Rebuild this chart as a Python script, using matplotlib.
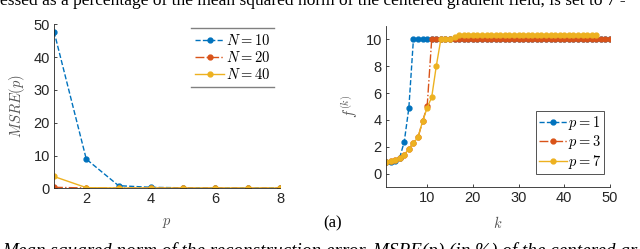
import matplotlib
matplotlib.use("Agg")
import matplotlib.pyplot as plt
from matplotlib.lines import Line2D

plt.rcParams['font.family'] = ['Liberation Sans', 'DejaVu Sans']
plt.rcParams['mathtext.fontset'] = 'cm'

# ---- data: left panel ----
p_vals = [1, 2, 3, 4, 5, 6, 7, 8]
msre_N10 = [47.8, 8.9, 0.8, 0.3, 0.15, 0.1, 0.1, 0.1]
msre_N20 = [0.3, 0.1, 0.05, 0.05, 0.05, 0.05, 0.05, 0.05]
msre_N40 = [3.6, 0.2, 0.1, 0.1, 0.1, 0.1, 0.1, 0.1]
left_labels = ['$N = 10$', '$N = 20$', '$N = 40$']

# ---- data: right panel ----
k_p1 = list(range(1, 51))
f_p1 = [0.85, 0.9, 0.95, 1.2, 2.4, 4.9, 10.0, 10.0, 10.0, 10.0,
        10.0, 10.0, 10.0, 10.0, 10.0, 10.0, 10.0, 10.0, 10.0, 10.0,
        10.0, 10.0, 10.0, 10.0, 10.0, 10.0, 10.0, 10.0, 10.0, 10.0,
        10.0, 10.0, 10.0, 10.0, 10.0, 10.0, 10.0, 10.0, 10.0, 10.0,
        10.0, 10.0, 10.0, 10.0, 10.0, 10.0, 10.0, 10.0, 10.0, 10.0]
k_p3 = list(range(1, 51))
f_p3 = [0.9, 0.95, 1.0, 1.2, 1.4, 1.85, 2.3, 2.7, 3.9, 5.0,
        10.0, 10.0, 10.0, 10.0, 10.0, 10.0, 10.0, 10.0, 10.0, 10.0,
        10.0, 10.0, 10.0, 10.0, 10.0, 10.0, 10.0, 10.0, 10.0, 10.0,
        10.0, 10.0, 10.0, 10.0, 10.0, 10.0, 10.0, 10.0, 10.0, 10.0,
        10.0, 10.0, 10.0, 10.0, 10.0, 10.0, 10.0, 10.0, 10.0, 10.0]
k_p7 = list(range(1, 48))
f_p7 = [0.9, 0.95, 1.0, 1.2, 1.4, 1.85, 2.3, 2.7, 3.9, 4.9,
        5.7, 8.0, 10.0, 10.0, 10.0, 10.15, 10.3, 10.3, 10.3, 10.3,
        10.3, 10.3, 10.3, 10.3, 10.3, 10.3, 10.3, 10.3, 10.3, 10.3,
        10.3, 10.3, 10.3, 10.3, 10.3, 10.3, 10.3, 10.3, 10.3, 10.3,
        10.3, 10.3, 10.3, 10.3, 10.3, 10.3, 10.3]
right_labels = ['$p = 1$', '$p = 3$', '$p = 7$']

caption_top = "essed as a percentage of the mean squared norm of the centered gradient field, is set to 7 -"
caption_bottom = "Mean squared norm of the reconstruction error, MSRE(p) (in %) of the centered gr"

C1, C2, C3 = '#0072BD', '#D95319', '#EDB120'
AX = '#262626'

W, H = 640, 249
fig = plt.figure(figsize=(W / 100, H / 100), dpi=100)

def style(ax):
    for s in ['top', 'right']:
        ax.spines[s].set_visible(False)
    for s in ['left', 'bottom']:
        ax.spines[s].set_color(AX)
        ax.spines[s].set_linewidth(0.6)
    ax.tick_params(direction='in', length=2.5, width=0.6, colors=AX,
                   labelsize=10.5, pad=3)

# left panel
ax1 = fig.add_axes([54 / W, 1 - 188.3 / H, (280 - 54) / W, (188.3 - 24.3) / H])
ax1.plot(p_vals, msre_N10, '--', color=C1, marker='.', ms=7, lw=1.0, label=left_labels[0])
ax1.plot(p_vals, msre_N20, '-.', color=C2, marker='.', ms=7, lw=1.0, label=left_labels[1])
ax1.plot(p_vals, msre_N40, '-', color=C3, marker='.', ms=7, lw=1.0, label=left_labels[2])
ax1.set_xlim(1, 8)
ax1.set_ylim(0, 50)
ax1.set_xticks([2, 4, 6, 8])
ax1.set_yticks([0, 10, 20, 30, 40, 50])
style(ax1)
ax1.set_xlabel('$p$', fontsize=10.5, color='#555555', labelpad=7)
ax1.set_ylabel('$MSRE(p)$', fontsize=10.5, color='#555555', labelpad=5)
leg1 = ax1.legend(loc='upper right', bbox_to_anchor=(0.975, 0.975), frameon=False,
                  fontsize=10.5, handlelength=2.0, handletextpad=0.1,
                  borderaxespad=0, labelspacing=0.15, borderpad=0.3)

# right panel
ax2 = fig.add_axes([386 / W, 1 - 187.3 / H, (610 - 386) / W, (187.3 - 25.7) / H])
ax2.plot(k_p1, f_p1, '--', color=C1, marker='.', ms=7, lw=1.0, label=right_labels[0])
ax2.plot(k_p3, f_p3, '-.', color=C2, marker='.', ms=7, lw=1.0, label=right_labels[1])
ax2.plot(k_p7, f_p7, '-', color=C3, marker='.', ms=7, lw=1.0, label=right_labels[2])
ax2.set_xlim(1, 50)
ax2.set_ylim(-1, 11)
ax2.set_xticks([10, 20, 30, 40, 50])
ax2.set_yticks([0, 2, 4, 6, 8, 10])
style(ax2)
ax2.set_xlabel('$k$', fontsize=10.5, color='#555555', labelpad=7)
ax2.set_ylabel('$f^{(k)}$', fontsize=10.5, color='#555555', labelpad=4)
leg2 = ax2.legend(loc='lower right', bbox_to_anchor=(0.975, 0.085), fancybox=False,
                  fontsize=10.5, handlelength=1.9, handletextpad=0.1,
                  borderaxespad=0, labelspacing=0.1, borderpad=0.2)
leg2.get_frame().set_edgecolor(AX)
leg2.get_frame().set_linewidth(0.7)

# booktabs-like rules around left legend
fig.canvas.draw()
bb = leg1.get_window_extent()
for yy in (bb.y0, bb.y1):
    fig.add_artist(Line2D([bb.x0 / W, bb.x1 / W], [yy / H, yy / H],
                          transform=fig.transFigure, color='#808080', lw=1.0))

# captions (cut off at the figure edges, as in the source page)
fig.text(0.0, 1 - 5 / H, caption_top, family=['Liberation Serif'], fontsize=12.5,
         ha='left', va='baseline')
fig.text(323 / W, 1 - 223 / H, '(a)', family=['Liberation Serif'], fontsize=12,
         ha='left', va='center')
fig.text(2 / W, 1 - 256 / H, caption_bottom, family=['Liberation Serif'], style='italic',
         fontsize=13.8, ha='left', va='baseline')

fig.savefig('out.png', dpi=100)
